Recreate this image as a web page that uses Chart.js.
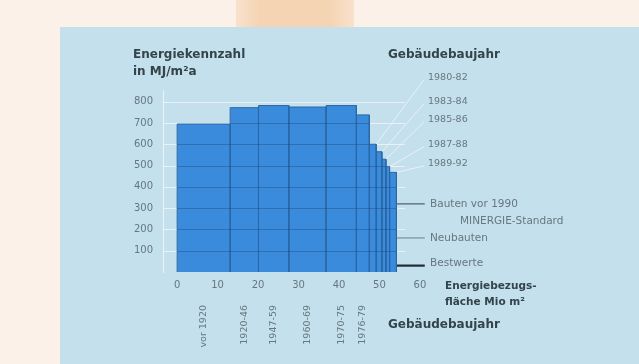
<!DOCTYPE html>
<html>
<head>
<meta charset="utf-8">
<script src="https://cdn.jsdelivr.net/npm/chart.js@4.4.1/dist/chart.umd.min.js"></script>
<style>
  html, body { margin: 0; padding: 0; }
  body { width: 639px; height: 364px; background: #fbf1e8; position: relative; overflow: hidden; }
  #peach { position: absolute; left: 236px; top: 0; width: 118px; height: 27px;
           background: linear-gradient(90deg, #f8e2cc, #f5d4b4 20%, #f5d4b4 80%, #f8e2cc); }
  #panel { position: absolute; left: 60px; top: 27px; right: 0; bottom: 0; background: #c3e0ec; }
  #chart { position: absolute; left: 0; top: 0; }
</style>
</head>
<body>
<div id="peach"></div>
<div id="panel"></div>
<canvas id="chart" width="639" height="364"></canvas>
<script>
// Bauperioden: Flaeche (Mio m2, kumuliert) und Energiekennzahl (MJ/m2a)
const edges = [0, 13.1, 20.1, 27.6, 36.8, 44.3, 47.5, 49.2, 50.6, 51.6, 52.5, 54.2];
const values = [695, 772, 782, 775, 782, 738, 600, 565, 530, 495, 468];
const periodLabels = ["vor 1920", "1920-46", "1947-59", "1960-69", "1970-75", "1976-79"];
const recentLabels = ["1980-82", "1983-84", "1985-86", "1987-88", "1989-92"];

// Richtwerte rechts neben den Balken
const refNames = ["Bauten vor 1990", "Neubauten", "Bestwerte"];
const refValues = [320, 160, 30];

const yTicks = [100, 200, 300, 400, 500, 600, 700, 800];
const xTicks = [0, 10, 20, 30, 40, 50, 60];

// Lage der Jahresbeschriftungen oben rechts (als Wert auf der y-Achse)
const recentLabelY = [913, 800, 715, 598, 508];

const barFill = '#3a8bdb';
const barLine = '#2b67a6';
const gray = '#66777f';
const dark = '#34444b';

const barSets = values.map((v, i) => ({
    data: [{x: edges[i], y: 0}, {x: edges[i], y: v}, {x: edges[i + 1], y: v}, {x: edges[i + 1], y: 0}],
    borderColor: barLine, borderWidth: 1, backgroundColor: barFill,
    fill: 'origin', pointRadius: 0, tension: 0
}));

const refStyle = [
    {color: '#4f5f66', width: 1.2},
    {color: '#7d8e95', width: 1.2},
    {color: '#1f2d33', width: 2.2}
];
const refSets = refValues.map((v, i) => ({
    data: [{x: edges[edges.length - 1], y: v}, {x: 61.2, y: v}],
    borderColor: refStyle[i].color, borderWidth: refStyle[i].width,
    fill: false, pointRadius: 0
}));

// Gitterlinien: hell auf dem Grund, dunkler auf den Balken
const gridPlugin = {
    id: 'grid',
    beforeDatasetsDraw(chart) {
        const {ctx, scales: {x, y}} = chart;
        ctx.save();
        ctx.strokeStyle = 'rgba(236,244,247,0.9)';
        ctx.lineWidth = 1;
        yTicks.forEach(v => {
            const py = Math.round(y.getPixelForValue(v)) + 0.5;
            ctx.beginPath();
            ctx.moveTo(x.left, py);
            ctx.lineTo(x.getPixelForValue(56.3), py);
            ctx.stroke();
        });
        // Verbindungslinien zu den Jahresbeschriftungen
        ctx.strokeStyle = 'rgba(238,245,248,0.85)';
        recentLabels.forEach((t, k) => {
            const i = 6 + k;
            ctx.beginPath();
            ctx.moveTo(x.getPixelForValue(edges[i + 1]), y.getPixelForValue(values[i]));
            ctx.lineTo(424, y.getPixelForValue(recentLabelY[k]) + 2);
            ctx.stroke();
        });
        ctx.restore();
    },
    afterDatasetsDraw(chart) {
        const {ctx, scales: {x, y}} = chart;
        ctx.save();
        ctx.strokeStyle = 'rgba(25,60,105,0.35)';
        ctx.lineWidth = 1;
        values.forEach((v, i) => {
            yTicks.filter(t => t < v).forEach(t => {
                const py = Math.round(y.getPixelForValue(t)) + 0.5;
                ctx.beginPath();
                ctx.moveTo(x.getPixelForValue(edges[i]), py);
                ctx.lineTo(x.getPixelForValue(edges[i + 1]), py);
                ctx.stroke();
            });
        });
        ctx.restore();
    }
};

// Achsentitel und Beschriftungen
const textPlugin = {
    id: 'texts',
    afterDraw(chart) {
        const {ctx, scales: {x, y}} = chart;
        ctx.save();
        ctx.textBaseline = 'middle';
        ctx.fillStyle = dark;
        ctx.font = 'bold 12px "DejaVu Sans"';
        ctx.textAlign = 'left';
        ctx.fillText('Energiekennzahl', 133, 55);
        ctx.fillText('in MJ/m²a', 133, 72);
        ctx.fillText('Gebäudebaujahr', 388, 55);
        ctx.fillText('Gebäudebaujahr', 388, 325);
        ctx.font = 'bold 10.5px "DejaVu Sans"';
        ctx.fillText('Energiebezugs-', 445, 286);
        ctx.fillText('fläche Mio m²', 445, 302);

        ctx.fillStyle = gray;
        ctx.font = '9.5px "DejaVu Sans"';
        recentLabels.forEach((t, k) => {
            ctx.fillText(t, 428, y.getPixelForValue(recentLabelY[k]));
        });

        ctx.font = '10.5px "DejaVu Sans"';
        refNames.forEach((t, i) => {
            ctx.fillText(t, 430, y.getPixelForValue(refValues[i]) - (i === 2 ? 2 : 0));
        });
        ctx.fillText('MINERGIE-Standard', 460, 221);

        ctx.font = '9.5px "DejaVu Sans"';
        ctx.textAlign = 'right';
        periodLabels.forEach((t, i) => {
            const px = x.getPixelForValue((edges[i] + edges[i + 1]) / 2);
            ctx.save();
            ctx.translate(px, 305);
            ctx.rotate(-Math.PI / 2);
            ctx.fillText(t, 0, 0);
            ctx.restore();
        });
        ctx.restore();
    }
};

Chart.defaults.font.family = '"DejaVu Sans", sans-serif';

new Chart(document.getElementById('chart'), {
    type: 'line',
    data: { datasets: [...barSets, ...refSets] },
    options: {
        responsive: false,
        animation: false,
        layout: { padding: { left: 113, right: 211, top: 90, bottom: 0 } },
        plugins: { legend: { display: false }, tooltip: { enabled: false } },
        scales: {
            x: {
                type: 'linear', min: -3.5, max: 62,
                afterBuildTicks: s => { s.ticks = xTicks.map(v => ({value: v})); },
                afterFit: s => { s.height = 92; },
                grid: { display: false, drawTicks: false },
                border: { display: false },
                ticks: { color: gray, font: { size: 10 }, padding: 7, maxRotation: 0 }
            },
            y: {
                min: 0, max: 855,
                afterBuildTicks: s => { s.ticks = yTicks.map(v => ({value: v})); },
                afterFit: s => { s.width = 50; },
                grid: { display: false, drawTicks: false },
                border: { display: true, color: 'rgba(236,244,247,0.95)', width: 1 },
                ticks: { color: gray, font: { size: 10 }, padding: 10 }
            }
        }
    },
    plugins: [gridPlugin, textPlugin]
});
</script>
</body>
</html>
